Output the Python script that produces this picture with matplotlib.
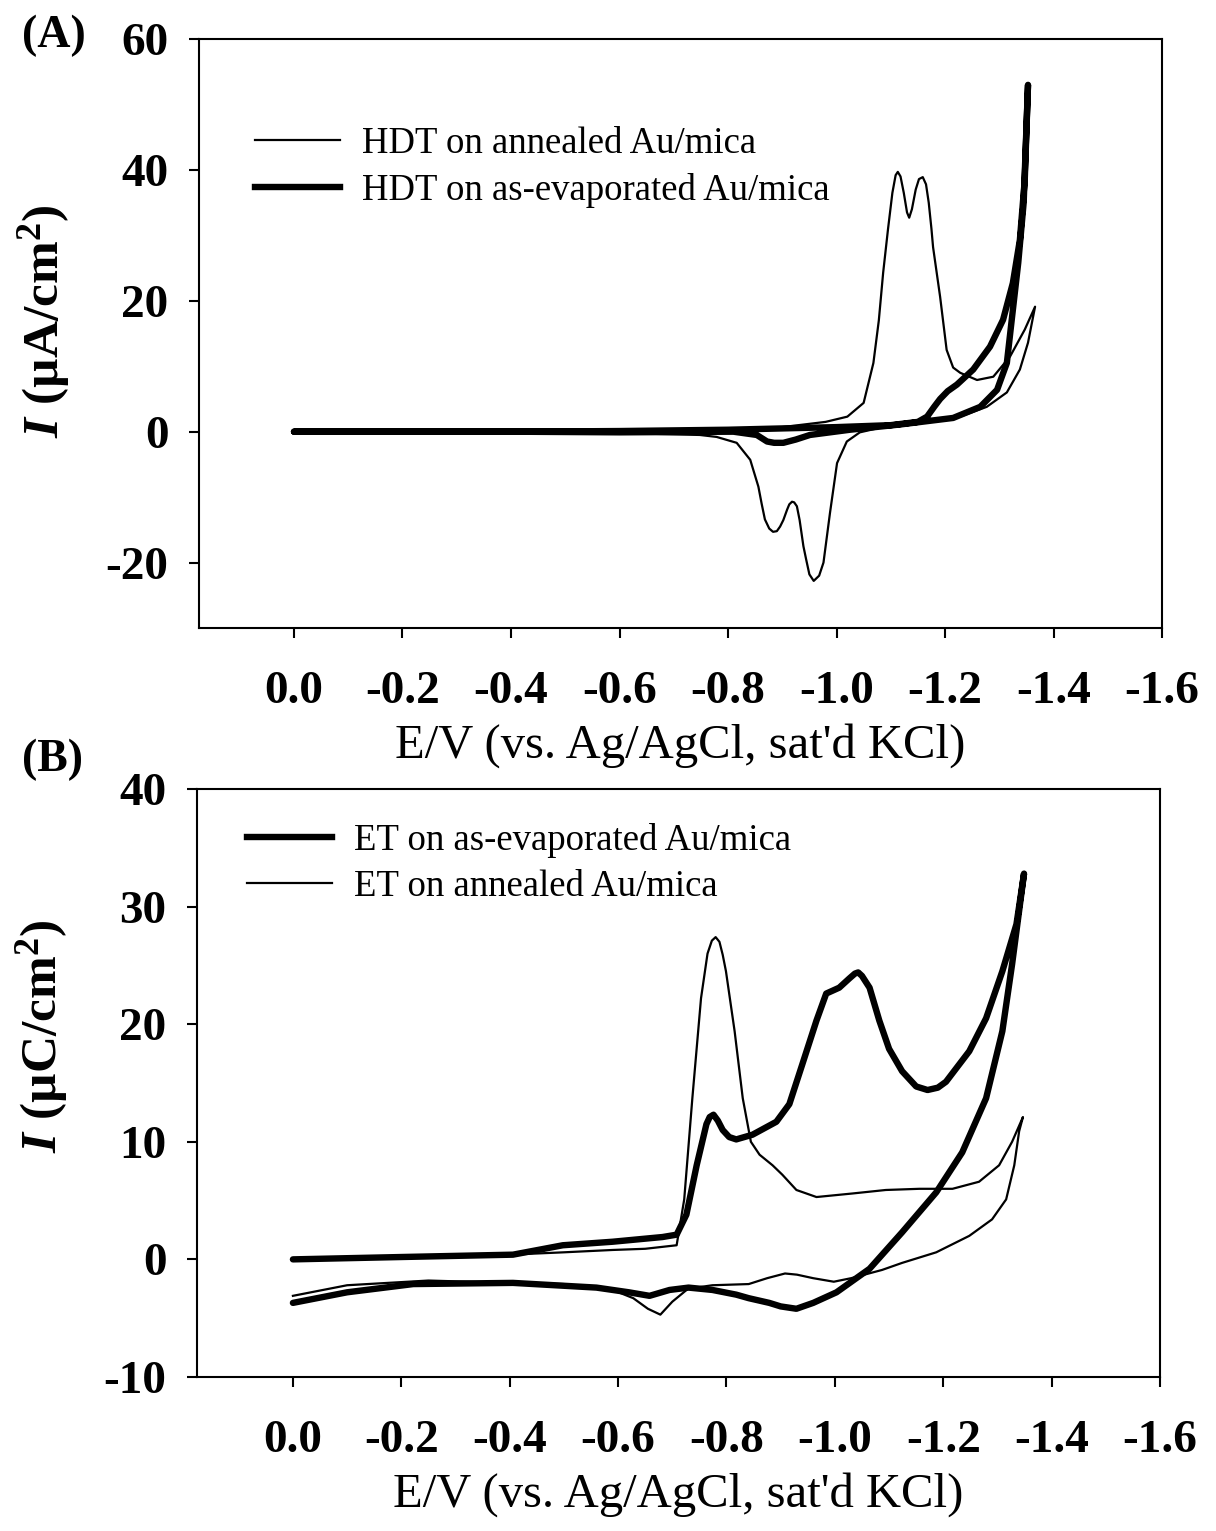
import matplotlib
matplotlib.use("Agg")
import matplotlib.pyplot as plt
from matplotlib.ticker import FormatStrFormatter
from matplotlib.lines import Line2D

plt.rcParams['font.family'] = ['Liberation Serif', 'DejaVu Serif']
plt.rcParams['axes.unicode_minus'] = False
plt.rcParams['mathtext.fontset'] = 'custom'
plt.rcParams['mathtext.rm'] = 'Liberation Serif:bold'
plt.rcParams['mathtext.it'] = 'Liberation Serif:italic:bold'
plt.rcParams['mathtext.bf'] = 'Liberation Serif:bold'

# ---- panel A: HDT, current density (uA/cm2) vs E (V) ----
hdt_ann_E = [0.0, -0.2, -0.4, -0.6, -0.75, -0.9, -0.98, -1.02, -1.05, -1.068, -1.078, -1.086,
             -1.095, -1.103, -1.109, -1.113, -1.118, -1.124, -1.13, -1.134, -1.139, -1.146,
             -1.152, -1.159, -1.165, -1.17, -1.175, -1.178, -1.191, -1.203, -1.215,
             -1.228, -1.259, -1.289, -1.32, -1.347, -1.366,
             -1.353, -1.338, -1.314, -1.277, -1.228, -1.148, -1.08, -1.043, -1.019, -1.001,
             -0.988, -0.976, -0.968, -0.958, -0.95, -0.944, -0.939, -0.932, -0.927, -0.922,
             -0.918, -0.913, -0.909, -0.902, -0.896, -0.89, -0.883, -0.876, -0.868, -0.862,
             -0.856, -0.841, -0.816, -0.779, -0.748, -0.6, -0.4, -0.2, 0.0]
hdt_ann_I = [0.0, 0.0, 0.0, 0.1, 0.3, 0.7, 1.5, 2.3, 4.4, 10.5, 17.0, 24.3,
             31.0, 36.5, 39.2, 39.7, 39.0, 36.5, 33.5, 32.7, 34.0, 37.0,
             38.6, 38.9, 37.8, 35.0, 31.0, 28.2, 20.6, 12.5, 9.8,
             9.0, 7.9, 8.4, 11.5, 15.6, 19.1,
             13.6, 9.5, 6.0, 3.8, 2.3, 1.4, 0.6, -0.1, -1.5, -4.8,
             -12.4, -20.0, -22.0, -22.8, -21.8, -19.5, -17.5, -13.5, -11.4, -10.8,
             -10.7, -11.1, -11.9, -13.5, -14.5, -15.2, -15.3, -14.8, -13.4, -11.0,
             -8.4, -4.3, -1.7, -0.8, -0.5, -0.2, -0.1, 0.0, 0.0]

hdt_evap_E = [0.0, -0.2, -0.4, -0.6, -0.8, -0.9, -1.0, -1.1, -1.15, -1.167, -1.18, -1.191,
              -1.205, -1.222, -1.252, -1.283, -1.307, -1.325, -1.338, -1.347, -1.353,
              -1.345, -1.335, -1.323, -1.314, -1.296, -1.265, -1.215, -1.117, -1.025,
              -0.951, -0.925, -0.902, -0.885, -0.872, -0.853, -0.81, -0.6, -0.4, -0.2, 0.0]
hdt_evap_I = [0.0, 0.0, 0.0, 0.1, 0.3, 0.5, 0.7, 1.0, 1.5, 2.3, 3.8, 5.0,
              6.2, 7.2, 9.5, 13.0, 17.1, 22.7, 29.3, 38.5, 53.0,
              35.0, 25.8, 17.1, 10.5, 6.4, 3.8, 2.1, 1.1, 0.3,
              -0.5, -1.2, -1.7, -1.7, -1.5, -0.5, 0.0, -0.1, 0.0, 0.0, 0.0]

# ---- panel B: ET, charge density (uC/cm2) vs E (V) ----
et_evap_E = [0.0, -0.2, -0.406, -0.498, -0.59, -0.682, -0.708, -0.726, -0.745, -0.763, -0.769,
             -0.776, -0.784, -0.793, -0.805, -0.818, -0.848, -0.892, -0.916, -0.94, -0.966,
             -0.984, -1.008, -1.027, -1.037, -1.043, -1.05, -1.064, -1.082, -1.1, -1.124,
             -1.15, -1.171, -1.19, -1.205, -1.248, -1.279, -1.309, -1.335, -1.349,
             -1.327, -1.309, -1.279, -1.235, -1.187, -1.124, -1.064, -1.003, -0.96, -0.929,
             -0.9, -0.879, -0.841, -0.818, -0.774, -0.73, -0.695, -0.658, -0.62, -0.56,
             -0.406, -0.222, -0.1, 0.0]
et_evap_I = [0.0, 0.2, 0.4, 1.2, 1.5, 1.9, 2.1, 3.8, 8.0, 11.5, 12.1,
             12.3, 11.8, 11.0, 10.4, 10.2, 10.6, 11.7, 13.2, 16.6, 20.3,
             22.6, 23.1, 23.9, 24.3, 24.4, 24.1, 23.1, 20.3, 17.9, 16.0,
             14.7, 14.4, 14.6, 15.1, 17.7, 20.5, 24.5, 28.5, 32.8,
             25.1, 19.4, 13.7, 9.1, 5.7, 2.3, -0.8, -2.8, -3.7, -4.2,
             -4.0, -3.7, -3.3, -3.0, -2.6, -2.4, -2.6, -3.1, -2.8, -2.4,
             -2.0, -2.1, -2.8, -3.7]

et_ann_E = [0.0, -0.1, -0.2, -0.3, -0.4, -0.5, -0.59, -0.65, -0.708, -0.722, -0.737, -0.753,
            -0.765, -0.773, -0.78, -0.787, -0.793, -0.799, -0.815, -0.83, -0.845, -0.861,
            -0.885, -0.903, -0.929, -0.966, -1.032, -1.094, -1.156, -1.217, -1.266, -1.303,
            -1.327, -1.347,
            -1.34, -1.331, -1.316, -1.29, -1.248, -1.187, -1.124, -1.087, -1.03, -0.998,
            -0.96, -0.93, -0.908, -0.875, -0.841, -0.774, -0.729, -0.7, -0.678, -0.655,
            -0.628, -0.59, -0.5, -0.4, -0.25, -0.1, 0.0]
et_ann_I = [0.0, 0.1, 0.2, 0.3, 0.4, 0.6, 0.8, 0.9, 1.2, 5.1, 13.7, 22.2,
            26.0, 27.1, 27.4, 27.0, 25.9, 24.5, 19.4, 13.7, 10.0, 8.9,
            8.0, 7.2, 5.9, 5.3, 5.6, 5.9, 6.0, 6.0, 6.6, 8.0,
            10.0, 12.1,
            10.9, 8.0, 5.1, 3.4, 2.0, 0.6, -0.3, -0.9, -1.6, -1.9,
            -1.6, -1.3, -1.2, -1.6, -2.1, -2.2, -2.5, -3.6, -4.7, -4.2,
            -3.3, -2.6, -2.1, -2.0, -1.8, -2.2, -3.1]

x_ticks = [0.0, -0.2, -0.4, -0.6, -0.8, -1.0, -1.2, -1.4, -1.6]
a_yticks = [-20, 0, 20, 40, 60]
b_yticks = [-10, 0, 10, 20, 30, 40]

THIN = 1.6
THICK = 4.6
TICKFONT = 34
LABELFONT = 35
LEGFONT = 26.5


def style_axes(ax, yticks, ylim, xlim_left):
    ax.set_xlim(xlim_left, -1.6)
    ax.set_ylim(*ylim)
    ax.set_xticks(x_ticks)
    ax.set_yticks(yticks)
    ax.xaxis.set_major_formatter(FormatStrFormatter('%.1f'))
    ax.tick_params(direction='out', length=7, width=1.5, top=False, right=False)
    ax.tick_params(axis='x', pad=24, labelsize=TICKFONT)
    ax.tick_params(axis='y', pad=15, labelsize=TICKFONT)
    for lab in ax.get_xticklabels() + ax.get_yticklabels():
        lab.set_fontweight('bold')
    for sp in ax.spines.values():
        sp.set_linewidth(1.5)
    ax.set_xlabel("E/V (vs. Ag/AgCl, sat'd KCl)", fontsize=LABELFONT, labelpad=7)


fig = plt.figure(figsize=(12.16, 15.31), dpi=100)

# panel A
ax1 = fig.add_axes([0.1637, 0.5898, 0.7919, 0.3847])
ax1.plot(hdt_ann_E, hdt_ann_I, color='black', lw=THIN, solid_joinstyle='round')
ax1.plot(hdt_evap_E, hdt_evap_I, color='black', lw=THICK, solid_joinstyle='round',
         solid_capstyle='round')
style_axes(ax1, a_yticks, (-30, 60), 0.175)
ax1.set_ylabel(r'$I$ (µA/cm$^2$)', fontsize=37, fontweight='bold')
ax1.yaxis.set_label_coords(-0.132, 0.52)
hA = [Line2D([], [], color='black', lw=THIN), Line2D([], [], color='black', lw=THICK)]
ax1.legend(hA, ['HDT on annealed Au/mica', 'HDT on as-evaporated Au/mica'],
           loc='upper left', bbox_to_anchor=(0.058, 0.851), frameon=False,
           fontsize=LEGFONT, borderpad=0, borderaxespad=0, handlelength=2.3,
           handletextpad=0.6, labelspacing=0.32)
fig.text(22 / 1216, 1 - 36 / 1531, '(A)', fontsize=33, fontweight='bold',
         ha='left', va='center')

# panel B
ax2 = fig.add_axes([0.162, 0.1006, 0.792, 0.3841])
ax2.plot(et_ann_E, et_ann_I, color='black', lw=THIN, solid_joinstyle='round')
ax2.plot(et_evap_E, et_evap_I, color='black', lw=THICK, solid_joinstyle='round',
         solid_capstyle='round')
style_axes(ax2, b_yticks, (-10, 40), 0.177)
ax2.set_ylabel(r'$I$ (µC/cm$^2$)', fontsize=37, fontweight='bold')
ax2.yaxis.set_label_coords(-0.132, 0.58)
hB = [Line2D([], [], color='black', lw=THICK), Line2D([], [], color='black', lw=THIN)]
ax2.legend(hB, ['ET on as-evaporated Au/mica', 'ET on annealed Au/mica'],
           loc='upper left', bbox_to_anchor=(0.052, 0.942), frameon=False,
           fontsize=LEGFONT, borderpad=0, borderaxespad=0, handlelength=2.3,
           handletextpad=0.6, labelspacing=0.32)
fig.text(22 / 1216, 1 - 760 / 1531, '(B)', fontsize=33, fontweight='bold',
         ha='left', va='center')

fig.savefig('out.png', dpi=100)
